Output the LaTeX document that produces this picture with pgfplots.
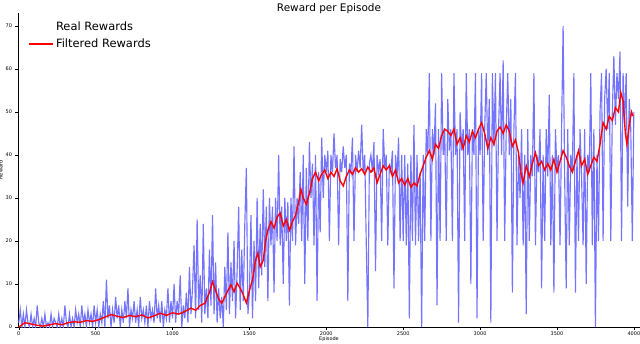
\documentclass[border=0pt]{standalone}
\usepackage{fontspec}
\setmainfont{DejaVu Sans}
\usepackage{pgfplots}
\pgfplotsset{compat=1.18}
\usetikzlibrary{calc}
\definecolor{realblue}{HTML}{7474FF}
\definecolor{filtred}{HTML}{FF0000}
\pgfplotsset{longleg/.style={legend image code/.code={\draw[##1] (0bp,0bp) -- (24bp,0bp);}}}

\begin{document}
\begin{tikzpicture}[x=1bp,y=1bp]
  \begin{axis}[
    name=ax,
    scale only axis,
    width=622bp,height=314bp,
    xmin=-5,xmax=4040,ymin=0,ymax=73,
    axis lines=left,
    axis line style={-,black,line width=0.8pt},
    xtick={0,500,...,4000},
    ytick={0,10,...,70},
    tick align=outside,
    major tick length=2.5bp,
    tick style={black,line width=0.5pt},
    /pgf/number format/assume math mode=true,
    /pgf/number format/1000 sep={},
    tick label style={font=\fontsize{5}{6}\selectfont},
    xticklabel style={yshift=1bp},
    title={Reward per Episode},
    title style={font=\fontsize{10.5}{12}\selectfont,yshift=-10bp},
    xlabel={Episode},
    ylabel={Reward},
    label style={font=\fontsize{5}{6}\selectfont},
    xlabel style={yshift=6bp},
    ylabel style={yshift=-4bp},
    legend style={at={(0.012,0.985)},anchor=north west,draw=none,fill=none,
      font=\fontsize{11.5}{13}\selectfont,row sep=3bp},
    legend cell align=left,
  ]
    \addplot[realblue,line width=1.15pt,forget plot] coordinates {
      (0,1) (10,4) (20,0) (30,3) (40,0) (50,4) (60,1) (70,0) (80,3) (90,0)
      (100,2) (110,0) (120,5) (130,1) (140,0) (150,2) (160,0) (170,3) (180,0) (190,1)
      (200,0) (210,3) (220,0) (230,2) (240,1) (250,0) (260,3) (270,0) (280,2) (290,0)
      (300,5) (310,1) (320,0) (330,3) (340,0) (350,2) (360,0) (370,4) (380,1) (390,3)
      (400,0) (410,5) (420,1) (430,3) (440,0) (450,4) (460,1) (470,3) (480,0) (490,5)
      (500,1) (510,4) (520,0) (530,3) (540,1) (550,6) (560,0) (570,11) (580,2) (590,5)
      (600,0) (610,4) (620,1) (630,7) (640,2) (650,5) (660,0) (670,4) (680,1) (690,6)
      (700,2) (710,9) (720,0) (730,4) (740,2) (750,6) (760,1) (770,4) (780,0) (790,7)
      (800,2) (810,4) (820,1) (830,5) (840,0) (850,6) (860,2) (870,4) (880,1) (890,9)
      (900,2) (910,5) (920,1) (930,6) (940,0) (950,4) (960,2) (970,9) (980,1) (990,6)
      (1000,2) (1010,10) (1020,1) (1030,6) (1040,3) (1050,12) (1060,0) (1070,5) (1080,2) (1090,8)
      (1100,1) (1110,14) (1120,3) (1130,9) (1140,19) (1150,2) (1160,25) (1170,4) (1180,12) (1190,1)
      (1200,24) (1210,3) (1220,9) (1230,2) (1240,18) (1250,5) (1260,26) (1270,3) (1280,15) (1290,1)
      (1300,9) (1310,2) (1320,7) (1330,0) (1340,14) (1350,4) (1360,22) (1370,3) (1380,15) (1390,6)
      (1400,20) (1410,2) (1420,13) (1430,28) (1440,4) (1450,18) (1460,6) (1470,24) (1480,37) (1490,3)
      (1500,8) (1510,26) (1520,2) (1530,20) (1540,6) (1550,30) (1560,9) (1570,24) (1580,12) (1590,32)
      (1600,14) (1610,28) (1620,6) (1630,30) (1640,19) (1650,28) (1660,8) (1670,30) (1680,20) (1690,40)
      (1700,19) (1710,28) (1720,10) (1730,30) (1740,20) (1750,29) (1760,5) (1770,30) (1780,20) (1790,42)
      (1800,19) (1810,30) (1820,24) (1830,36) (1840,20) (1850,40) (1860,10) (1870,37) (1880,20) (1890,43)
      (1900,30) (1910,38) (1920,19) (1930,40) (1940,6) (1950,36) (1960,22) (1970,44) (1980,30) (1990,40)
      (2000,36) (2010,41) (2020,20) (2030,40) (2040,36) (2050,45) (2060,37) (2070,40) (2080,19) (2090,39)
      (2100,36) (2110,42) (2120,37) (2130,40) (2140,6) (2150,38) (2160,36) (2170,44) (2180,20) (2190,40)
      (2200,36) (2210,41) (2220,37) (2230,47) (2240,36) (2250,40) (2260,19) (2270,0) (2280,38) (2290,40)
      (2300,36) (2310,43) (2320,13) (2330,40) (2340,36) (2350,39) (2360,20) (2370,46) (2380,37) (2390,40)
      (2400,19) (2410,38) (2420,36) (2430,41) (2440,9) (2450,40) (2460,35) (2470,44) (2480,20) (2490,40)
      (2500,20) (2510,40) (2520,19) (2530,38) (2540,2) (2550,40) (2560,20) (2570,47) (2580,19) (2590,40)
      (2600,20) (2610,36) (2620,0) (2630,40) (2640,20) (2650,46) (2660,40) (2670,59) (2680,20) (2690,46)
      (2700,40) (2710,52) (2720,5) (2730,46) (2740,20) (2750,59) (2760,40) (2770,46) (2780,20) (2790,53)
      (2800,41) (2810,46) (2820,20) (2830,59) (2840,40) (2850,46) (2860,1) (2870,50) (2880,41) (2890,46)
      (2900,20) (2910,59) (2920,40) (2930,46) (2940,10) (2950,46) (2960,40) (2970,59) (2980,2) (2990,46)
      (3000,40) (3010,59) (3020,20) (3030,46) (3040,59) (3050,40) (3060,53) (3070,1) (3080,59) (3090,42)
      (3100,59) (3110,20) (3120,46) (3130,59) (3140,40) (3150,62) (3160,20) (3170,46) (3180,59) (3190,40)
      (3200,53) (3210,8) (3220,46) (3230,59) (3240,19) (3250,40) (3260,30) (3270,46) (3280,19) (3290,40)
      (3300,3) (3310,46) (3320,20) (3330,40) (3340,35) (3350,59) (3360,19) (3370,40) (3380,36) (3390,46)
      (3400,9) (3410,40) (3420,20) (3430,46) (3440,35) (3450,54) (3460,19) (3470,40) (3480,8) (3490,46)
      (3500,36) (3510,40) (3520,19) (3530,46) (3540,70) (3550,35) (3560,9) (3570,46) (3580,19) (3590,40)
      (3600,36) (3610,59) (3620,8) (3630,40) (3640,20) (3650,46) (3660,35) (3670,19) (3680,46) (3690,10)
      (3700,40) (3710,36) (3720,59) (3730,19) (3740,46) (3750,0) (3760,40) (3770,20) (3780,50) (3790,59)
      (3800,20) (3810,53) (3820,60) (3830,46) (3840,59) (3850,20) (3860,50) (3870,63) (3880,47) (3890,59)
      (3900,53) (3910,64) (3920,20) (3930,59) (3940,47) (3950,59) (3960,28) (3970,53) (3980,46) (3990,20)
      (4000,50)
    };
    \addlegendimage{empty legend}
    \addlegendentry{Real Rewards}
    \addplot[filtred,line width=1.4pt,longleg] coordinates {
      (0,0) (40,1) (80,0.7) (120,0.4) (160,0.2) (200,0.5) (240,0.8) (280,0.5) (320,1.0) (360,1.2)
      (400,1.1) (440,1.5) (480,1.3) (520,1.7) (560,2.3) (600,2.9) (640,2.5) (680,2.2) (720,2.7) (760,2.4)
      (800,2.8) (840,2.1) (880,2.6) (920,3.2) (960,2.7) (1000,3.3) (1040,3.0) (1080,3.6) (1120,4.4) (1150,3.9)
      (1180,5.0) (1210,5.5) (1240,8.0) (1260,10.5) (1280,8.5) (1300,6.5) (1320,5.5) (1340,7.0) (1360,8.5) (1380,9.8)
      (1400,8.2) (1420,10.2) (1440,9.0) (1460,7.5) (1480,5.6) (1500,8.5) (1520,11.0) (1540,15.5) (1555,17.2) (1570,14.0)
      (1590,15.5) (1605,20.0) (1620,22.5) (1640,24.5) (1660,23.0) (1680,25.5) (1700,26.5) (1720,23.5) (1740,25.0) (1760,22.5)
      (1780,24.5) (1800,26.0) (1820,29.0) (1835,32.0) (1850,30.0) (1870,28.5) (1890,31.0) (1910,34.5) (1930,36.0) (1950,34.0)
      (1970,35.5) (1990,36.5) (2010,34.5) (2030,36.0) (2050,35.0) (2070,36.8) (2090,34.0) (2110,32.8) (2130,35.0) (2150,36.5)
      (2170,35.5) (2190,37.0) (2210,36.0) (2230,36.8) (2250,35.5) (2270,37.2) (2290,36.0) (2310,37.0) (2330,33.5) (2350,35.5)
      (2370,37.5) (2390,36.5) (2410,37.5) (2430,35.0) (2450,36.5) (2470,33.5) (2490,34.5) (2510,33.0) (2530,34.5) (2550,32.5)
      (2570,33.5) (2590,32.8) (2610,35.5) (2630,37.5) (2650,39.5) (2670,41.0) (2690,39.0) (2710,42.5) (2730,41.5) (2750,44.5)
      (2770,46.0) (2790,45.5) (2810,44.5) (2830,46.0) (2850,42.5) (2870,44.0) (2890,41.5) (2910,44.5) (2930,43.0) (2950,45.5)
      (2970,44.0) (2990,46.0) (3010,47.5) (3030,45.0) (3050,41.5) (3070,44.0) (3090,42.5) (3110,45.5) (3130,46.5) (3150,45.0)
      (3170,47.0) (3190,45.5) (3210,42.0) (3230,43.5) (3250,40.5) (3265,36.0) (3280,33.5) (3300,37.5) (3320,35.0) (3340,38.0)
      (3360,40.5) (3380,37.5) (3400,38.5) (3420,36.5) (3440,38.0) (3460,36.5) (3480,39.0) (3500,36.0) (3520,38.5) (3540,41.0)
      (3560,39.5) (3580,37.5) (3600,36.0) (3620,38.5) (3640,41.0) (3660,37.5) (3680,39.0) (3700,35.5) (3720,37.5) (3740,39.5)
      (3760,38.5) (3780,42.5) (3800,47.5) (3820,46.0) (3840,49.0) (3860,48.0) (3880,51.0) (3900,50.0) (3915,54.5) (3930,52.5)
      (3945,45.0) (3955,42.5) (3970,47.0) (3985,50.0) (3995,49.0)
    };
    \addlegendentry{Filtered Rewards}
  \end{axis}
  \pgfresetboundingbox
  \path[use as bounding box] ($(ax.south west)+(-18bp,-17bp)$) rectangle ($(ax.north east)+(0bp,13bp)$);
\end{tikzpicture}
\end{document}
